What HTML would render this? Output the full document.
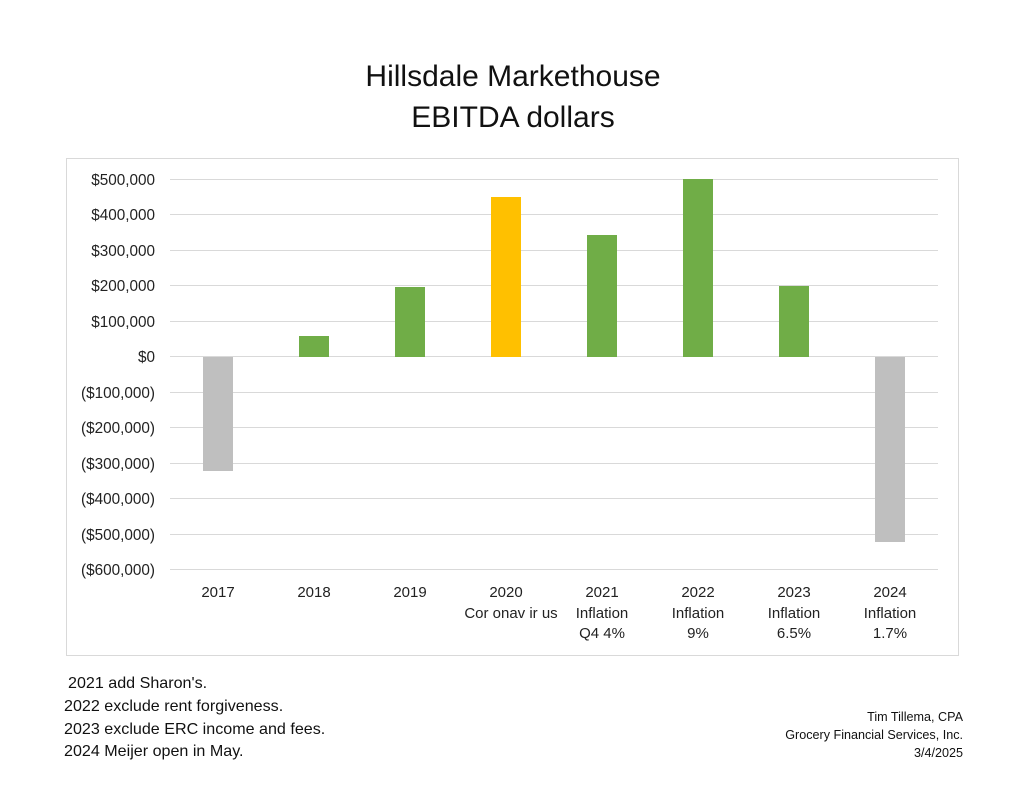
<!DOCTYPE html>
<html><head><meta charset="utf-8"><style>
body{margin:0;background:#fff;}
svg{display:block;font-family:"Liberation Sans",sans-serif;}
</style></head><body>
<svg width="1024" height="791" viewBox="0 0 1024 791">
<rect width="1024" height="791" fill="#fff"/>
<text x="513" y="86" font-size="30" text-anchor="middle" fill="#111">Hillsdale Markethouse</text>
<text x="513" y="127" font-size="30" text-anchor="middle" fill="#111">EBITDA dollars</text>
<rect x="66.5" y="158.5" width="892" height="497" fill="#fff" stroke="#d9d9d9"/>
<g stroke="#d9d9d9" stroke-width="1">
<line x1="170" x2="938" y1="179.5" y2="179.5"/>
<line x1="170" x2="938" y1="214.5" y2="214.5"/>
<line x1="170" x2="938" y1="250.5" y2="250.5"/>
<line x1="170" x2="938" y1="285.5" y2="285.5"/>
<line x1="170" x2="938" y1="321.5" y2="321.5"/>
<line x1="170" x2="938" y1="356.5" y2="356.5"/>
<line x1="170" x2="938" y1="392.5" y2="392.5"/>
<line x1="170" x2="938" y1="427.5" y2="427.5"/>
<line x1="170" x2="938" y1="463.5" y2="463.5"/>
<line x1="170" x2="938" y1="498.5" y2="498.5"/>
<line x1="170" x2="938" y1="534.5" y2="534.5"/>
<line x1="170" x2="938" y1="569.5" y2="569.5"/>
</g>
<g font-size="15.3" fill="#222" text-anchor="end">
<text x="155" y="185">$500,000</text>
<text x="155" y="220">$400,000</text>
<text x="155" y="256">$300,000</text>
<text x="155" y="291">$200,000</text>
<text x="155" y="327">$100,000</text>
<text x="155" y="362">$0</text>
<text x="155" y="398">($100,000)</text>
<text x="155" y="433">($200,000)</text>
<text x="155" y="469">($300,000)</text>
<text x="155" y="504">($400,000)</text>
<text x="155" y="540">($500,000)</text>
<text x="155" y="575">($600,000)</text>
</g>
<rect x="203" y="357" width="30" height="114" fill="#bfbfbf"/>
<rect x="299" y="336" width="30" height="21" fill="#70ad47"/>
<rect x="395" y="287" width="30" height="70" fill="#70ad47"/>
<rect x="491" y="197" width="30" height="160" fill="#ffc000"/>
<rect x="587" y="235" width="30" height="122" fill="#70ad47"/>
<rect x="683" y="179" width="30" height="178" fill="#70ad47"/>
<rect x="779" y="286" width="30" height="71" fill="#70ad47"/>
<rect x="875" y="357" width="30" height="185" fill="#bfbfbf"/>
<g font-size="15" fill="#222" text-anchor="middle">
<text x="218" y="597">2017</text>
<text x="314" y="597">2018</text>
<text x="410" y="597">2019</text>
<text x="506" y="597">2020</text><text x="511" y="618">Cor onav ir us</text>
<text x="602" y="597">2021</text><text x="602" y="618">Inflation</text><text x="602" y="638">Q4 4%</text>
<text x="698" y="597">2022</text><text x="698" y="618">Inflation</text><text x="698" y="638">9%</text>
<text x="794" y="597">2023</text><text x="794" y="618">Inflation</text><text x="794" y="638">6.5%</text>
<text x="890" y="597">2024</text><text x="890" y="618">Inflation</text><text x="890" y="638">1.7%</text>
</g>
<g font-size="16.1" fill="#111">
<text x="68" y="688">2021 add Sharon's.</text>
<text x="64" y="711">2022 exclude rent forgiveness.</text>
<text x="64" y="734">2023 exclude ERC income and fees.</text>
<text x="64" y="756">2024 Meijer open in May.</text>
</g>
<g font-size="12.6" fill="#111" text-anchor="end">
<text x="963" y="721">Tim Tillema, CPA</text>
<text x="963" y="739">Grocery Financial Services, Inc.</text>
<text x="963" y="757">3/4/2025</text>
</g>
</svg>
</body></html>
